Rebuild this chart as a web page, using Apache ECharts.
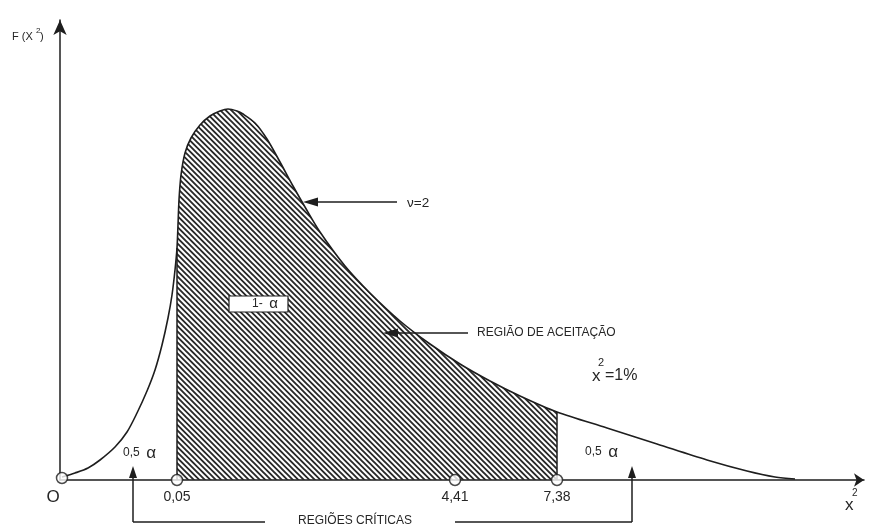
<!DOCTYPE html>
<html>
<head>
<meta charset="utf-8">
<script src="https://cdn.jsdelivr.net/npm/echarts@6/dist/echarts.min.js"></script>
<style>
    html, body { margin: 0; padding: 0; background: #fff; }
    #chart { width: 870px; height: 530px; }
</style>
</head>
<body>
<div id="chart"></div>
<script>
// curva F(x²) (unidades do gráfico, origem no canto dos eixos)
const curveX = [2, 15, 28, 40, 55, 67, 77, 87, 95, 102, 108, 112, 115, 117, 118, 119, 121, 125, 131, 140, 150, 160, 168, 177, 183, 195, 207, 220, 233, 245, 260, 285, 310, 340, 370, 400, 430, 460, 497, 547, 597, 647, 687, 715, 735]
const curveY = [3, 7, 12, 20, 33, 48, 67, 89, 110, 135, 162, 185, 210, 232, 255, 280, 305, 327, 342, 355, 364, 369, 371, 369, 366, 357, 341, 318, 294, 273, 248, 214, 187, 159, 136, 116, 99, 84, 68, 52, 36, 20, 9, 3, 1]

// limites da região de aceitação (0,05 e 7,38)
const cutLeft = 117
const cutRight = 497

// pontos marcados no eixo x
const tickX = [2, 117, 395, 497]
const tickY = [2, 0, 0, 0]
const tickLabels = ['O', '0,05', '4,41', '7,38']

// setas de anotação [de, para]
const noteArrows = [
    [[337, 278], [243, 278]],   // v=2
    [[408, 147], [323, 147]],   // região de aceitação
    [[73, -42], [73, 14]],      // 0,5 α esquerda
    [[572, -42], [572, 14]],    // 0,5 α direita
]
const bracketLines = [
    [[73, -42], [205, -42]],
    [[395, -42], [572, -42]],
]

const FONT = "'Liberation Sans', Arial, sans-serif"
const INK = '#1e1e1e'
const TXT = '#262626'

function hatchPattern() {
    const s = 11, p = 5.5
    const c = document.createElement('canvas')
    c.width = s; c.height = s
    const g = c.getContext('2d')
    g.strokeStyle = '#2a2a2a'
    g.lineWidth = 1.9
    g.beginPath()
    for (let o = -s; o <= s; o += p) {
        g.moveTo(o - 1, -1)
        g.lineTo(o + s + 1, s + 1)
    }
    g.stroke()
    return c
}

const curve = curveX.map((x, i) => [x, curveY[i]])
const hatched = curve.filter(d => d[0] >= cutLeft && d[0] <= cutRight)
const yAt = x => curveY[curveX.indexOf(x)]

const chart = echarts.init(document.getElementById('chart'))

chart.setOption({
    animation: false,
    textStyle: { fontFamily: FONT },
    grid: { left: 60, right: 6, top: 20, bottom: 50, containLabel: false },
    xAxis: {
        type: 'value', min: 0, max: 804,
        axisLine: { show: true, symbol: ['none', 'arrow'], symbolSize: [10, 10], lineStyle: { color: INK, width: 1.5 } },
        axisTick: { show: false }, axisLabel: { show: false }, splitLine: { show: false }
    },
    yAxis: {
        type: 'value', min: 0, max: 460,
        axisLine: { show: true, symbol: ['none', 'arrow'], symbolSize: [10, 15], lineStyle: { color: INK, width: 1.5 } },
        axisTick: { show: false }, axisLabel: { show: false }, splitLine: { show: false }
    },
    series: [
        {
            type: 'line',
            data: hatched,
            smooth: 0.3,
            showSymbol: false,
            lineStyle: { width: 0 },
            areaStyle: { color: { image: hatchPattern(), repeat: 'repeat' }, opacity: 1 },
            z: 2,
            silent: true,
            markLine: {
                silent: true,
                symbol: 'none',
                label: { show: false },
                lineStyle: { color: INK, width: 1.5, type: 'solid' },
                data: [
                    [{ coord: [cutLeft, 0] }, { coord: [cutLeft, yAt(cutLeft)] }],
                    [{ coord: [cutRight, 0] }, { coord: [cutRight, yAt(cutRight)] }]
                ]
            }
        },
        {
            type: 'line',
            data: curve,
            smooth: 0.3,
            showSymbol: false,
            lineStyle: { color: INK, width: 1.6 },
            z: 3,
            silent: true
        },
        {
            type: 'scatter',
            data: tickX.map((x, i) => [x, tickY[i]]),
            symbol: 'circle',
            symbolSize: 11,
            itemStyle: { color: '#fff', borderColor: INK, borderWidth: 1.5 },
            z: 5,
            silent: true
        }
    ]
})

// anotações (texto, setas, chave inferior) posicionadas pelas escalas do gráfico
const px = p => chart.convertToPixel({ gridIndex: 0 }, p)
const graphic = []

function text(pos, str, size, align, extra) {
    const [x, y] = px(pos)
    graphic.push({
        type: 'text', x, y, z: 10, silent: true,
        style: Object.assign({ text: str, fontSize: size, fontFamily: FONT, fill: TXT, align: align || 'left', verticalAlign: 'middle' }, extra || {})
    })
}

function arrow(from, to, len, half) {
    const [x1, y1] = px(from)
    const [x2, y2] = px(to)
    const a = Math.atan2(y2 - y1, x2 - x1)
    const bx = x2 - len * Math.cos(a), by = y2 - len * Math.sin(a)
    graphic.push({ type: 'line', z: 10, silent: true, shape: { x1, y1, x2: bx, y2: by }, style: { stroke: INK, lineWidth: 1.5 } })
    graphic.push({
        type: 'polygon', z: 10, silent: true,
        shape: { points: [[x2, y2], [bx - half * Math.sin(a), by + half * Math.cos(a)], [bx + half * Math.sin(a), by - half * Math.cos(a)]] },
        style: { fill: INK }
    })
}

tickX.forEach((x, i) => {
    if (i === 0) text([-7, -17], tickLabels[i], 17, 'center')
    else text([x, -17], tickLabels[i], 14, 'center')
})

noteArrows.forEach((a, i) => arrow(a[0], a[1], i < 2 ? 15 : 12, i < 2 ? 4.5 : 4))
bracketLines.forEach(([a, b]) => {
    const [x1, y1] = px(a), [x2, y2] = px(b)
    graphic.push({ type: 'line', z: 10, silent: true, shape: { x1, y1, x2, y2 }, style: { stroke: INK, lineWidth: 1.5 } })
})

text([295, -41], 'REGIÕES CRÍTICAS', 12, 'center')
text([347, 277], 'ν=2', 13.5, 'left')
text([417, 147], 'REGIÃO DE ACEITAÇÃO', 12, 'left')

// F (X²)
text([-48, 443], 'F (X', 11, 'left')
text([-24, 449], '2', 8, 'left')
text([-20, 443], ')', 11, 'left')

// x² no fim do eixo
text([785, -25], 'x', 17, 'left')
text([792, -13], '2', 10, 'left')

// x² = 1%
text([532, 104], 'x', 17, 'left')
text([538, 117], '2', 11, 'left')
text([545, 104], '=1%', 16, 'left')

const rich = { n: { fontSize: 12, fontFamily: FONT, fill: TXT }, a: { fontSize: 17, fontFamily: FONT, fill: TXT } }
text([63, 27], '{n|0,5}  {a|α}', 12, 'left', { rich })
text([525, 28], '{n|0,5}  {a|α}', 12, 'left', { rich })

// caixa 1- α
const [bx1, by1] = px([169, 184])
const [bx2, by2] = px([228, 168])
graphic.push({ type: 'rect', z: 9, silent: true, shape: { x: bx1, y: by1, width: bx2 - bx1, height: by2 - by1 }, style: { fill: '#fff', stroke: INK, lineWidth: 1.2 } })
text([192, 176], '{n|1-}  {a|α}', 12, 'left', { rich: { n: { fontSize: 12, fontFamily: FONT, fill: TXT }, a: { fontSize: 15, fontFamily: FONT, fill: TXT } } })

chart.setOption({ graphic })
</script>
</body>
</html>
